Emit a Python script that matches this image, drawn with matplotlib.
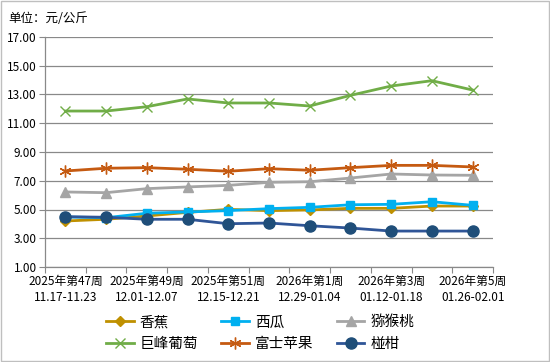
import matplotlib
matplotlib.use("Agg")
import matplotlib.pyplot as plt
from matplotlib.patches import Rectangle

plt.rcParams['font.family'] = ['Noto Sans CJK SC', 'DejaVu Sans']

weeks = ["2025年第47周\n11.17-11.23", "2025年第48周\n11.24-11.30", "2025年第49周\n12.01-12.07",
         "2025年第50周\n12.08-12.14", "2025年第51周\n12.15-12.21", "2025年第52周\n12.22-12.28",
         "2026年第1周\n12.29-01.04", "2026年第2周\n01.05-01.11", "2026年第3周\n01.12-01.18",
         "2026年第4周\n01.19-01.25", "2026年第5周\n01.26-02.01"]

banana = [4.20, 4.32, 4.55, 4.80, 5.01, 4.92, 4.97, 5.08, 5.08, 5.24, 5.24]
watermelon = [4.48, 4.43, 4.74, 4.83, 4.92, 5.06, 5.15, 5.33, 5.36, 5.54, 5.29]
kiwi = [6.22, 6.17, 6.45, 6.57, 6.68, 6.89, 6.93, 7.19, 7.47, 7.40, 7.38]
grape = [11.85, 11.85, 12.15, 12.69, 12.41, 12.41, 12.20, 12.94, 13.59, 13.96, 13.31]
apple = [7.68, 7.87, 7.91, 7.80, 7.66, 7.84, 7.73, 7.91, 8.07, 8.07, 7.96]
citrus = [4.50, 4.46, 4.32, 4.32, 4.01, 4.06, 3.87, 3.71, 3.50, 3.50, 3.50]

names = ["香蕉", "西瓜", "猕猴桃", "巨峰葡萄", "富士苹果", "椪柑"]
series = [banana, watermelon, kiwi, grape, apple, citrus]
colors = ["#BF9000", "#00B0F0", "#A5A5A5", "#70AD47", "#C55A11", "#2F5597"]
mfc = ["#BF9000", "#00B0F0", "#A5A5A5", "#70AD47", "#C55A11", "#1F4E79"]
markers = ["D", "s", "^", "x", (6, 2, 0), "o"]
msizes = [5, 6, 7, 7.5, 8.5, 8]

fig = plt.figure(figsize=(5.5, 3.62), dpi=100)
fig.patches.append(Rectangle((0.001, 0.002), 0.997, 0.995, transform=fig.transFigure,
                             fill=False, edgecolor="#BFBFBF", linewidth=1.0))
ax = fig.add_axes([45/550, 1-267/362, 448/550, 230/362])

x = list(range(len(weeks)))
handles = []
for s, n, c, fc, m, ms in zip(series, names, colors, mfc, markers, msizes):
    h, = ax.plot(x, s, color=c, linewidth=2.0, marker=m, markersize=ms,
                 markerfacecolor=fc, markeredgecolor=fc, markeredgewidth=1.0, label=n)
    handles.append(h)

ax.set_xlim(-0.5, len(weeks)-0.5)
ax.set_ylim(1, 17)
ax.set_yticks(range(1, 18, 2))
ax.set_yticklabels([f"{v:.2f}" for v in range(1, 18, 2)], fontsize=8.5)
ax.yaxis.grid(True, color="#898989", linewidth=0.9)
ax.set_axisbelow(True)

ax.set_xticks([i - 0.5 for i in range(len(weeks)+1)])
ax.set_xticklabels([])
ax.set_xticks(x[::2], minor=True)
ax.set_xticklabels(weeks[::2], minor=True, fontsize=8.5, linespacing=1.3)
ax.tick_params(axis='x', which='minor', length=0, pad=6)
ax.tick_params(axis='x', which='major', length=4, color="#898989", direction='out')
ax.tick_params(axis='y', length=4, color="#898989", direction='out', pad=2)

for sp in ["top", "right"]:
    ax.spines[sp].set_visible(False)
for sp in ["left", "bottom"]:
    ax.spines[sp].set_color("#898989")
    ax.spines[sp].set_linewidth(0.9)

fig.text(8/550, 1-18/362, "单位：元/公斤", fontsize=9, va="center", ha="left")

order = [0, 3, 1, 4, 2, 5]
fig.legend([handles[i] for i in order], [names[i] for i in order], ncol=3,
           loc="center", bbox_to_anchor=(260/550, 1-333/362), frameon=False,
           fontsize=10.5, handlelength=1.9, columnspacing=1.6, handletextpad=0.4,
           labelspacing=0.5, borderpad=0.2)

fig.savefig("out.png", dpi=100)
